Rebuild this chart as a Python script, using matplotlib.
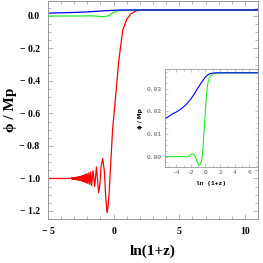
import matplotlib
matplotlib.use("Agg")
import matplotlib.pyplot as plt
from matplotlib.ticker import MultipleLocator, FixedLocator

# ---- data ----
red_x = [-5.0, -3.23, -3.195, -3.16, -3.125, -3.09, -3.055, -3.02, -2.985, -2.95, -2.915,
         -2.88, -2.845, -2.81, -2.775, -2.74, -2.705, -2.67, -2.635, -2.60, -2.565,
         -2.525, -2.485, -2.445, -2.405, -2.36, -2.315, -2.27, -2.225, -2.175, -2.125,
         -2.07, -2.015, -1.955, -1.89, -1.82, -1.75, -1.68, -1.57, -1.44, -1.31,
         -1.14, -1.05, -0.96, -0.83, -0.70, -0.60, -0.50, -0.42, -0.35, -0.25,
         -0.08, 0.13, 0.40, 0.70, 1.00, 1.30, 1.70, 2.20, 3.00, 11.0]
red_y = [-1.0, -1.0, -0.995, -1.005, -0.995, -1.0055, -0.9945, -1.006, -0.994, -1.0065, -0.993,
         -1.007, -0.9925, -1.008, -0.9915, -1.009, -0.9905, -1.010, -0.9895, -1.011, -0.988,
         -1.013, -0.986, -1.015, -0.984, -1.017, -0.981, -1.020, -0.978, -1.024, -0.974,
         -1.028, -0.970, -1.032, -0.965, -1.037, -0.960, -1.043, -0.952, -1.050, -0.930,
         -1.088, -1.04, -0.93, -0.877, -0.96, -1.12, -1.21, -1.17, -1.10, -0.95,
         -0.70, -0.515, -0.27, -0.086, -0.02, 0.012, 0.032, 0.036, 0.037, 0.037]

green_x = [-5.5, -2.5, -2.2, -2.0, -1.8, -1.6, -1.4, -1.2, -1.0, -0.8, -0.6, -0.45,
           -0.3, -0.15, 0.0, 0.15, 0.3, 0.5, 0.75, 1.0, 1.5, 2.5, 11.0]
green_y = [0.0, 0.0, 0.0003, 0.0009, 0.0012, 0.0009, 0.0, -0.0018, -0.0033, -0.0038,
           -0.0025, 0.0, 0.006, 0.014, 0.021, 0.028, 0.032, 0.0345, 0.0358, 0.0365,
           0.0369, 0.037, 0.037]

blue_x = [-5.5, -5.0, -4.5, -4.0, -3.5, -3.0, -2.5, -2.0, -1.5, -1.0, -0.5, 0.0,
          0.5, 1.0, 1.5, 2.0, 11.0]
blue_y = [0.0168, 0.0178, 0.0189, 0.0197, 0.0207, 0.022, 0.0235, 0.0255, 0.0278,
          0.0305, 0.033, 0.0352, 0.0365, 0.0369, 0.037, 0.037, 0.037]

main_xticks = [-5, 0, 5, 10]
main_xticklabels = ["− 5", "0", "5", "10"]
main_yticks = [0.0, -0.2, -0.4, -0.6, -0.8, -1.0, -1.2]
main_yticklabels = ["0.0", "− 0.2", "− 0.4", "− 0.6", "− 0.8", "− 1.0", "− 1.2"]
inset_xticks = [-4, -2, 0, 2, 4, 6]
inset_xticklabels = ["-4", "-2", "0", "2", "4", "6"]
inset_yticks = [0.0, 0.01, 0.02, 0.03]
inset_yticklabels = ["0.00", "0.01", "0.02", "0.03"]

RED = "#ff0000"
GREEN = "#22ee22"
BLUE = "#0000ff"
SPINE = "#999999"

fig = plt.figure(figsize=(2.63, 2.63), dpi=100)
ax = fig.add_axes([0.1825, 0.167, 0.7985, 0.829])

ax.plot(red_x, red_y, color=RED, lw=0.9)
ax.plot(green_x, green_y, color=GREEN, lw=0.9)
ax.plot(blue_x, blue_y, color=BLUE, lw=0.9)
ax.set_xlim(-5, 11)
ax.set_ylim(-1.25, 0.092)

serif = ["Liberation Serif", "DejaVu Serif"]
ax.xaxis.set_major_locator(FixedLocator(main_xticks))
ax.xaxis.set_minor_locator(MultipleLocator(1))
ax.yaxis.set_major_locator(FixedLocator(main_yticks))
ax.yaxis.set_minor_locator(MultipleLocator(0.05))
ax.set_xticklabels(main_xticklabels, fontfamily=serif, fontweight="bold", fontsize=7)
ax.set_yticklabels(main_yticklabels, fontfamily=serif, fontweight="bold", fontsize=7)
ax.tick_params(which="both", direction="in", color=SPINE, top=True, right=True)
ax.tick_params(which="major", length=3.5, width=0.5, pad=6)
ax.tick_params(which="minor", length=2, width=0.5)
for s in ax.spines.values():
    s.set_color(SPINE)
    s.set_linewidth(0.7)
ax.set_xlabel("ln(1+z)", fontfamily=serif, fontweight="bold", fontsize=11, labelpad=6)
ax.set_ylabel("ϕ / Mp", fontfamily=serif, fontweight="bold", fontsize=11, labelpad=2)

# inset
ins = fig.add_axes([0.626, 0.364, 0.355, 0.372])
ins.plot(green_x, green_y, color=GREEN, lw=0.8)
ins.plot(blue_x, blue_y, color=BLUE, lw=0.8)
ins.set_xlim(-5.6, 7.2)
ins.set_ylim(-0.0047, 0.0385)
ins.xaxis.set_major_locator(FixedLocator(inset_xticks))
ins.xaxis.set_minor_locator(MultipleLocator(1))
ins.yaxis.set_major_locator(FixedLocator(inset_yticks))
ins.yaxis.set_minor_locator(MultipleLocator(0.0025))
mono = ["Liberation Mono", "DejaVu Sans Mono"]
ins.set_xticklabels(inset_xticklabels, fontfamily=mono, fontsize=4.5, color="#555555")
ins.set_yticklabels(inset_yticklabels, fontfamily=mono, fontsize=4.5, color="#555555")
ins.tick_params(which="both", direction="in", color=SPINE, top=True, right=True)
ins.tick_params(which="major", length=2.5, width=0.4, pad=2)
ins.tick_params(which="minor", length=1.3, width=0.4)
for s in ins.spines.values():
    s.set_color(SPINE)
    s.set_linewidth(0.6)
ins.set_xlabel("ln (1+z)", fontfamily=mono, fontweight="bold", fontsize=4.5, labelpad=4)
ins.set_ylabel("ϕ / Mp", fontfamily=["DejaVu Sans"], fontweight="bold", fontsize=4.2, labelpad=3)

fig.savefig("out.png", dpi=100)
